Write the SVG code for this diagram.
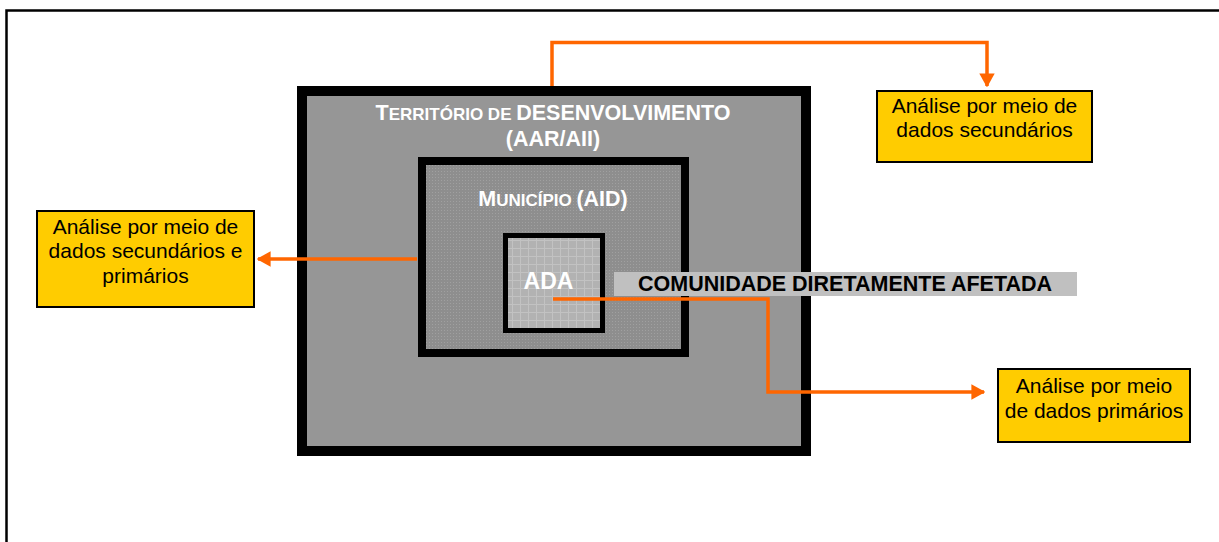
<svg xmlns="http://www.w3.org/2000/svg" width="1219" height="542" viewBox="0 0 1219 542">
<style>
.frame{fill:none;stroke:#000;stroke-width:2.5}
.conn{fill:none;stroke:#ff6600;stroke-width:3.5}
.note{fill:#ffcc00;stroke:#000;stroke-width:2}
.nt{font-family:"Liberation Sans",Arial,sans-serif;font-size:21px;fill:#000;text-anchor:middle}
.wt{font-family:"Liberation Sans",Arial,sans-serif;font-weight:bold;fill:#fff;text-anchor:middle}
.big{font-size:21.5px}
.sm{font-size:17px}
.bt{font-family:"Liberation Sans",Arial,sans-serif;font-weight:bold;font-size:21.5px;fill:#000;text-anchor:middle}
</style>
<defs>
<marker id="ah" markerWidth="4" markerHeight="4.4" refX="3.6" refY="2.2" orient="auto" markerUnits="strokeWidth">
<path d="M0,0 L4,2.2 L0,4.4 Z" fill="#ff6600"/>
</marker>
<pattern id="dots" width="3" height="3" patternUnits="userSpaceOnUse">
<rect width="3" height="3" fill="#8e8e8e"/>
<rect width="1" height="1" fill="#a0a0a0"/>
</pattern>
<pattern id="grid" width="8" height="8" patternUnits="userSpaceOnUse">
<rect width="8" height="8" fill="#b2b2b2"/>
<path d="M0,0.5 H8 M0.5,0 V8" stroke="#c2c2c2" stroke-width="1"/>
</pattern>
</defs>
<path class="frame" d="M6.5,542 V10.5 H1219"/>
<g id="territorio">
<rect x="302" y="91" width="504" height="360" fill="#969696" stroke="#000" stroke-width="10"/>
<text class="wt" x="553" y="120"><tspan class="big">T</tspan><tspan class="sm">ERRITÓRIO DE </tspan><tspan class="big">DESENVOLVIMENTO</tspan></text>
<text class="wt big" x="553" y="146">(AAR/AII)</text>
</g>
<g id="municipio">
<rect x="422" y="161" width="263" height="192" fill="url(#dots)" stroke="#000" stroke-width="8"/>
<text class="wt" x="553" y="206"><tspan class="big">M</tspan><tspan class="sm">UNICÍPIO </tspan><tspan class="big">(AID)</tspan></text>
</g>
<g id="ada">
<rect x="505.5" y="235.5" width="97" height="95" fill="url(#grid)" stroke="#000" stroke-width="5"/>
<text class="wt" x="548.5" y="289" style="font-size:23px">ADA</text>
</g>
<g id="comunidade">
<rect x="614" y="272" width="463" height="24" fill="#c0c0c0"/>
<text class="bt" x="845" y="291">COMUNIDADE DIRETAMENTE AFETADA</text>
</g>
<g id="connectors">
<path class="conn" d="M552,86 V42.5 H987 V86" marker-end="url(#ah)"/>
<path class="conn" d="M417,259 H258" marker-end="url(#ah)"/>
<path class="conn" d="M553,299 H768 V392 H984" marker-end="url(#ah)"/>
</g>
<g id="note-secundarios">
<rect class="note" x="877" y="91" width="215" height="71"/>
<text class="nt" x="984.5" y="113">Análise por meio de</text>
<text class="nt" x="984.5" y="137">dados secundários</text>
</g>
<g id="note-sec-prim">
<rect class="note" x="37" y="211" width="217" height="96"/>
<text class="nt" x="145.5" y="234">Análise por meio de</text>
<text class="nt" x="145.5" y="258">dados secundários e</text>
<text class="nt" x="145.5" y="283">primários</text>
</g>
<g id="note-primarios">
<rect class="note" x="998" y="369" width="192" height="73"/>
<text class="nt" x="1094" y="393">Análise por meio</text>
<text class="nt" x="1094" y="418">de dados primários</text>
</g>
</svg>
